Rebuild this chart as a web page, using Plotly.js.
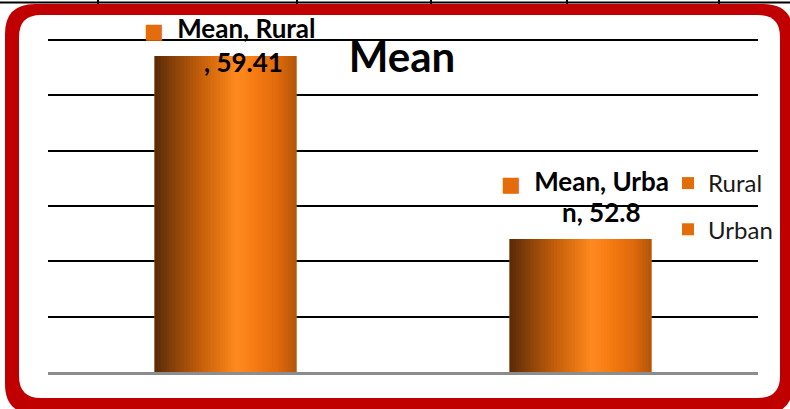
<!DOCTYPE html>
<html>
<head>
<meta charset="utf-8">
<script src="https://cdn.plot.ly/plotly-3.0.1.min.js"></script>
<style>
  html, body { margin: 0; padding: 0; background: #fff; }
  #chart { width: 790px; height: 409px; }
</style>
</head>
<body>
<div id="chart"></div>
<script>
// ---- data ----
const categories = ["Rural", "Urban"];
const meanValues = [59.41, 52.8];
const seriesLabel = "Mean";
const yTickValues = [50, 52, 54, 56, 58, 60];
const yRange = [48, 60.1];
const labelWrapAt = [11, 10];

// ---- layout geometry (pixels) ----
const W = 790, H = 409;
const M = { l: 48, r: 32, t: 37, b: 37 };
const PW = W - M.l - M.r, PH = H - M.t - M.b;
const px = p => (p - M.l) / PW;
const py = p => (H - M.b - p) / PH;

function roundRect(x0, y0, x1, y1, r) {
  const f = (x, y) => px(x).toFixed(5) + ',' + py(y).toFixed(5);
  return 'M' + f(x0 + r, y0) + ' L' + f(x1 - r, y0) + ' Q' + f(x1, y0) + ' ' + f(x1, y0 + r) +
    ' L' + f(x1, y1 - r) + ' Q' + f(x1, y1) + ' ' + f(x1 - r, y1) +
    ' L' + f(x0 + r, y1) + ' Q' + f(x0, y1) + ' ' + f(x0, y1 - r) +
    ' L' + f(x0, y0 + r) + ' Q' + f(x0, y0) + ' ' + f(x0 + r, y0) + ' Z';
}

// ---- gradient for bars ----
const stops = [
  [0.00, [88, 42, 8]],
  [0.15, [140, 68, 8]],
  [0.32, [194, 94, 10]],
  [0.50, [238, 124, 22]],
  [0.58, [255, 138, 32]],
  [0.72, [244, 122, 18]],
  [0.88, [222, 104, 11]],
  [1.00, [176, 86, 10]]
];
function gradColor(t) {
  for (let i = 0; i < stops.length - 1; i++) {
    const [a, ca] = stops[i], [b, cb] = stops[i + 1];
    if (t >= a && t <= b) {
      const u = (t - a) / (b - a);
      const c = ca.map((v, k) => Math.round(v + (cb[k] - v) * u));
      return 'rgb(' + c.join(',') + ')';
    }
  }
  return 'rgb(176,86,10)';
}

const barWidth = 0.4;
const legendColor = '#e46c0a';
const traces = [];
categories.forEach((c, i) => {
  traces.push({
    type: 'bar', name: c, x: [c], y: [meanValues[i]], width: barWidth,
    marker: { color: legendColor, line: { width: 0 } },
    legendgroup: c, hoverinfo: 'skip'
  });
});
const N = 48;
const sw = barWidth / N;
for (let k = 0; k < N; k++) {
  traces.push({
    type: 'bar', x: categories, y: meanValues,
    width: k < N - 1 ? sw * 1.6 : sw, offset: -barWidth / 2 + k * sw,
    marker: { color: gradColor((k + 0.5) / N), line: { width: 0 } },
    showlegend: false, hoverinfo: 'skip'
  });
}

// ---- data labels ----
const labelFont = { family: 'Lato, Carlito, sans-serif', size: 26, color: '#000' };
const sq = '<span style="color:' + legendColor + ';font-family:DejaVu Sans;font-size:21px">■</span>';
const labelPlacement = [
  { line1: { xshift: 4, yshift: 28 }, line2: { xshift: 18, yshift: -6 } },
  { line1: { xshift: 4, yshift: 58 }, line2: { xshift: 20, yshift: 27 } }
];
const annotations = [];
categories.forEach((c, i) => {
  const full = seriesLabel + ', ' + c + ', ' + meanValues[i];
  const l1 = full.slice(0, labelWrapAt[i]);
  const l2 = full.slice(labelWrapAt[i]);
  annotations.push({
    x: c, y: meanValues[i], xref: 'x', yref: 'y', showarrow: false,
    text: sq + '  <b>' + l1 + '</b>', font: labelFont,
    xshift: labelPlacement[i].line1.xshift, yshift: labelPlacement[i].line1.yshift
  });
  annotations.push({
    x: c, y: meanValues[i], xref: 'x', yref: 'y', showarrow: false,
    text: '<b>' + l2 + '</b>', font: labelFont,
    xshift: labelPlacement[i].line2.xshift, yshift: labelPlacement[i].line2.yshift
  });
});

// ---- decorative shapes ----
const shapes = [];
shapes.push({ type: 'line', xref: 'paper', yref: 'paper', layer: 'below',
  x0: px(0), x1: px(W), y0: py(2.5), y1: py(2.5), line: { color: '#000', width: 2 } });
[98, 297, 431, 567, 719].forEach(x => shapes.push({ type: 'line', xref: 'paper', yref: 'paper', layer: 'below',
  x0: px(x), x1: px(x), y0: py(0), y1: py(4), line: { color: '#000', width: 2 } }));
shapes.push({ type: 'path', xref: 'paper', yref: 'paper', layer: 'below',
  path: roundRect(5, 4, 793, 414, 30), fillcolor: '#c00000', line: { width: 0 } });
shapes.push({ type: 'path', xref: 'paper', yref: 'paper', layer: 'below',
  path: roundRect(19, 15, 780, 398, 22), fillcolor: '#ffffff', line: { width: 0 } });

const layout = {
  width: W, height: H,
  margin: M,
  paper_bgcolor: '#ffffff',
  plot_bgcolor: 'rgba(0,0,0,0)',
  barmode: 'overlay',
  showlegend: true,
  title: {
    text: '<b>' + seriesLabel + '</b>',
    font: { family: 'Lato, Carlito, sans-serif', size: 42, color: '#000' },
    xref: 'container', yref: 'container',
    x: 402 / W, xanchor: 'center', y: 1 - 57 / H, yanchor: 'middle'
  },
  xaxis: {
    type: 'category', categoryarray: categories, range: [-0.5, 1.5],
    showticklabels: false, showgrid: false, ticks: '',
    showline: true, linecolor: '#8c8c8c', linewidth: 3, fixedrange: true
  },
  yaxis: {
    range: yRange, tickvals: yTickValues, showticklabels: false,
    showgrid: true, gridcolor: '#000', gridwidth: 2,
    zeroline: false, showline: false, ticks: '', fixedrange: true
  },
  legend: {
    x: px(668), y: py(161), xanchor: 'left', yanchor: 'top',
    bgcolor: 'rgba(0,0,0,0)', borderwidth: 0,
    font: { family: 'Lato, Carlito, sans-serif', size: 24, color: '#1a1a1a' },
    traceorder: 'grouped', tracegroupgap: 12, itemclick: false
  },
  annotations: annotations,
  shapes: shapes
};

Plotly.newPlot('chart', traces, layout, { staticPlot: true, displayModeBar: false });
</script>
</body>
</html>
